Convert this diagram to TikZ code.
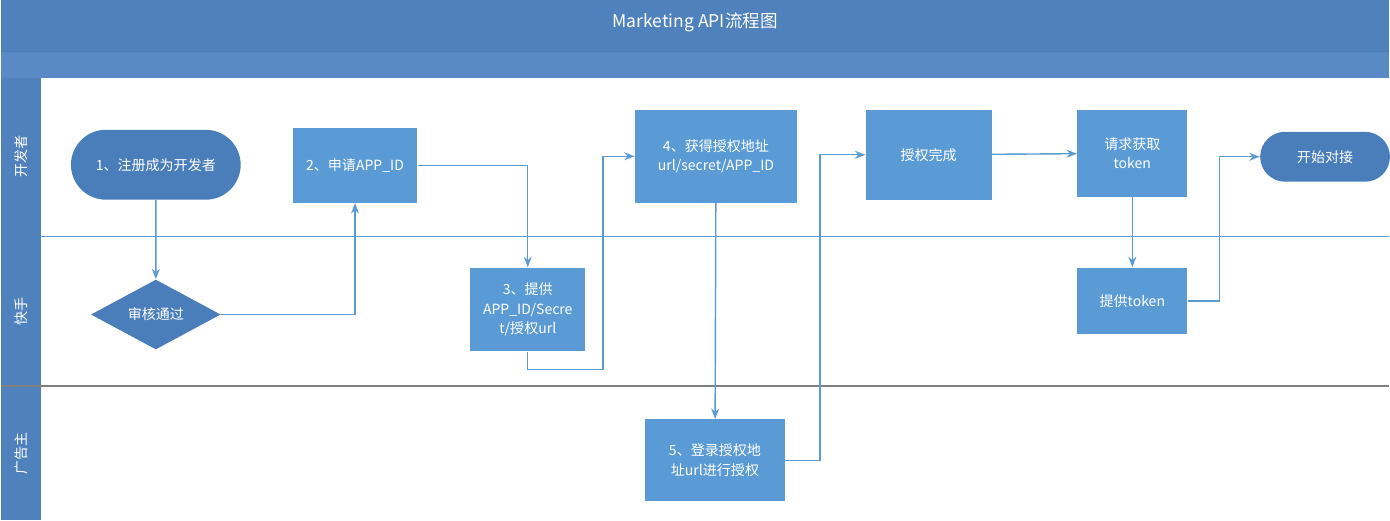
\documentclass[tikz,border=0pt]{standalone}
\usepackage{fontspec}
\setmainfont{Noto Sans CJK SC}
\usetikzlibrary{shapes.geometric,shapes.misc,arrows.meta}
\definecolor{hdr}{HTML}{4F81BD}
\definecolor{hdrb}{HTML}{5A8AC6}
\definecolor{boxc}{HTML}{5B9BD5}
\definecolor{darkc}{HTML}{4A7EBB}
\begin{document}
\begin{tikzpicture}
        [x=0.02cm, y=-0.02cm,
        box/.style={rectangle, fill=boxc, text=white, align=center, font=\fontsize{8}{11}\selectfont, inner sep=0pt},
        term/.style={rounded rectangle, fill=darkc, text=white, font=\fontsize{8}{10}\selectfont, inner sep=0pt},
        gate/.style={diamond, fill=darkc, text=white, font=\fontsize{8}{10}\selectfont, inner sep=0pt, aspect=1.85},
        flow/.style={boxc, line width=0.8pt, -{Stealth[length=6pt]}},
        lane/.style={text=white, font=\fontsize{8}{10}\selectfont, rotate=90}]

        \fill[white] (0,0) rectangle (1390,521);
        \fill[hdr] (0,0) rectangle (1390,52);
        \fill[hdrb] (0,52) rectangle (1390,78);
        \draw[darkc, line width=0.6pt] (0,52) -- (1390,52);
        \fill[hdr] (0,78) rectangle (40,521);
        \node[text=white, font=\fontsize{10}{12}\selectfont] (title) at (695,22) {Marketing API流程图};
        \node[lane] (dev) at (20,157) {开发者};
        \node[lane] (ks) at (20,312) {快手};
        \node[lane] (adv) at (20,454) {广告主};
        \draw[boxc, line width=0.6pt] (40,237) -- (1390,237);
        \draw[gray, line width=1.2pt] (0,387) -- (1390,387);

        \node[term, minimum width=3.4cm, minimum height=1.4cm] (reg) at (155,165) {1、注册成为开发者};
        \node[box, minimum width=2.5cm, minimum height=1.5cm] (apply) at (354.5,165.5) {2、申请APP\_ID};
        \node[gate, minimum width=2.6cm, minimum height=1.4cm] (check) at (155,315) {审核通过};
        \node[box, minimum width=2.3cm, minimum height=1.68cm] (give) at (527.5,310) {3、提供\\APP\_ID/Secre\\t/授权url};
        \node[box, minimum width=3.24cm, minimum height=1.86cm] (get) at (716,156.5) {4、获得授权地址\\url/secret/APP\_ID};
        \node[box, minimum width=2.8cm, minimum height=1.64cm] (login) at (715,461) {5、登录授权地\\址url进行授权};
        \node[box, minimum width=2.52cm, minimum height=1.8cm] (done) at (929,155) {授权完成};
        \node[box, minimum width=2.2cm, minimum height=1.74cm] (req) at (1133,153.5) {请求获取\\token};
        \node[box, minimum width=2.2cm, minimum height=1.34cm] (tok) at (1133,301.5) {提供token};
        \node[term, minimum width=2.6cm, minimum height=1.0cm] (start) at (1326,157) {开始对接};

        \draw[flow] (reg) -- (check);
        \draw[flow] (check.east) -| (apply.south);
        \draw[flow] (apply.east) -| (give.north);
        \draw[flow] (give.south) |- (603,370) |- (get.west);
        \draw[flow] (get) -- (login);
        \draw[flow] (login.east) -| (820,300) |- (done.west);
        \draw[flow] (done) -- (req);
        \draw[flow] (req) -- (tok);
        \draw[flow] (tok.east) -| (1220,230) |- (start.west);

    \end{tikzpicture}
\end{document}
